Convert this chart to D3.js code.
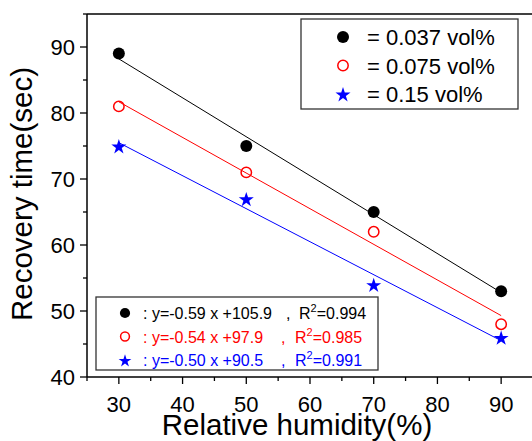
<!DOCTYPE html>
<html>
<head>
<meta charset="utf-8">
<script src="https://cdn.jsdelivr.net/npm/d3@7"></script>
<style>
  body { margin: 0; background: #fff; }
  text { font-family: Arial, "Liberation Sans", sans-serif; }
</style>
</head>
<body>
<div id="chart"></div>
<script>
// humidity values (x)
var humidity = [30, 50, 70, 90];
// recovery time per concentration
var series037 = [89, 75, 65, 53];
var series075 = [81, 71, 62, 48];
var series015 = [75, 67, 54, 46];
// linear fits: slope, intercept, r2
var fitSlopes = [-0.59, -0.54, -0.50];
var fitIntercepts = [105.9, 97.9, 90.5];
var fitR2 = ["0.994", "0.985", "0.991"];
var legendLabels = ["= 0.037 vol%", "= 0.075 vol%", "= 0.15 vol%"];
var xTicks = [30, 40, 50, 60, 70, 80, 90];
var yTicks = [40, 50, 60, 70, 80, 90];

var W = 532, H = 441;
var m = {left: 87, top: 14, right: -1, bottom: 64};

var svg = d3.select("#chart").append("svg")
	.attr("width", W).attr("height", H);

var x = d3.scaleLinear().domain([25, 95]).range([m.left, W - m.right]);
var y = d3.scaleLinear().domain([40, 95]).range([H - m.bottom, m.top]);

var colors = ["#000000", "#ff0000", "#0000ff"];
var allSeries = [series037, series075, series015];

// frame top line
svg.append("line")
	.attr("x1", m.left).attr("x2", W)
	.attr("y1", y(95)).attr("y2", y(95))
	.attr("stroke", "#000").attr("stroke-width", 1.5);

// x axis
var xAxis = svg.append("g").attr("transform", "translate(0," + y(40) + ")");
xAxis.append("line").attr("x1", m.left).attr("x2", W).attr("stroke", "#000").attr("stroke-width", 1.5);
d3.range(25, 96, 5).forEach(function(v) {
	var major = v % 10 == 0;
	xAxis.append("line")
		.attr("x1", x(v)).attr("x2", x(v))
		.attr("y1", 0).attr("y2", major ? 7 : 4)
		.attr("stroke", "#000").attr("stroke-width", 1.3);
});
xTicks.forEach(function(v) {
	xAxis.append("text")
		.attr("x", x(v)).attr("y", 35)
		.attr("text-anchor", "middle")
		.attr("font-size", 22)
		.text(v);
});

// y axis
var yAxis = svg.append("g").attr("transform", "translate(" + m.left + ",0)");
yAxis.append("line").attr("y1", y(95)).attr("y2", y(40)).attr("stroke", "#000").attr("stroke-width", 1.5);
d3.range(40, 96, 5).forEach(function(v) {
	var major = v % 10 == 0;
	yAxis.append("line")
		.attr("y1", y(v)).attr("y2", y(v))
		.attr("x1", 0).attr("x2", major ? -7 : -4)
		.attr("stroke", "#000").attr("stroke-width", 1.3);
});
yTicks.forEach(function(v) {
	yAxis.append("text")
		.attr("x", -12).attr("y", y(v) + 8)
		.attr("text-anchor", "end")
		.attr("font-size", 22)
		.text(v);
});

// axis titles
svg.append("text")
	.attr("x", 297).attr("y", 435)
	.attr("text-anchor", "middle")
	.attr("font-size", 29.5)
	.text("Relative humidity(%)");
svg.append("text")
	.attr("transform", "translate(32,194) rotate(-90)")
	.attr("text-anchor", "middle")
	.attr("font-size", 29.5)
	.text("Recovery time(sec)");

// fit lines
fitSlopes.forEach(function(s, i) {
	svg.append("line")
		.attr("x1", x(30)).attr("y1", y(s * 30 + fitIntercepts[i]))
		.attr("x2", x(90)).attr("y2", y(s * 90 + fitIntercepts[i]))
		.attr("stroke", colors[i]).attr("stroke-width", 1);
});

function drawMarker(g, i, cx, cy, scale) {
	scale = scale || 1;
	if (i == 0) {
		g.append("circle").attr("cx", cx).attr("cy", cy).attr("r", 6 * scale).attr("fill", "#000");
	} else if (i == 1) {
		g.append("circle").attr("cx", cx).attr("cy", cy).attr("r", 5.2 * scale)
			.attr("fill", "none").attr("stroke", "#ff0000").attr("stroke-width", 1.5);
	} else {
		g.append("path").attr("d", d3.symbol().type(d3.symbolStar).size(70 * scale * scale)())
			.attr("transform", "translate(" + cx + "," + (cy + 1) + ")")
			.attr("fill", "#0000ff");
	}
}

// data points
allSeries.forEach(function(ser, i) {
	ser.forEach(function(v, j) {
		drawMarker(svg, i, x(humidity[j]), y(v));
	});
});

// top-right legend
svg.append("rect")
	.attr("x", 301).attr("y", 19).attr("width", 217).attr("height", 90)
	.attr("fill", "#fff").attr("stroke", "#333").attr("stroke-width", 1.3);
legendLabels.forEach(function(lab, i) {
	var ly = 37 + i * 28.5;
	drawMarker(svg, i, 343, ly, 1);
	svg.append("text").attr("x", 367).attr("y", ly + 8)
		.attr("font-size", 22).text(lab);
});

// bottom-left fit legend
svg.append("rect")
	.attr("x", 96).attr("y", 297).attr("width", 282).attr("height", 73)
	.attr("fill", "#fff").attr("stroke", "#333").attr("stroke-width", 1.3);
fitSlopes.forEach(function(s, i) {
	var ly = 313 + i * 23.5;
	drawMarker(svg, i, 125, ly, 0.85);
	var t = svg.append("text").attr("y", ly + 6).attr("font-size", 16).attr("fill", colors[i]);
	t.append("tspan").attr("x", 143)
		.text(": y=" + s.toFixed(2) + " x +" + fitIntercepts[i].toFixed(1));
	t.append("tspan").attr("x", i == 0 ? 286 : 281).text(",");
	t.append("tspan").attr("x", i == 0 ? 299 : 295).text("R");
	t.append("tspan").attr("dy", -7).attr("font-size", 11).text("2");
	t.append("tspan").attr("dy", 7).text("=" + fitR2[i]);
});
</script>
</body>
</html>
